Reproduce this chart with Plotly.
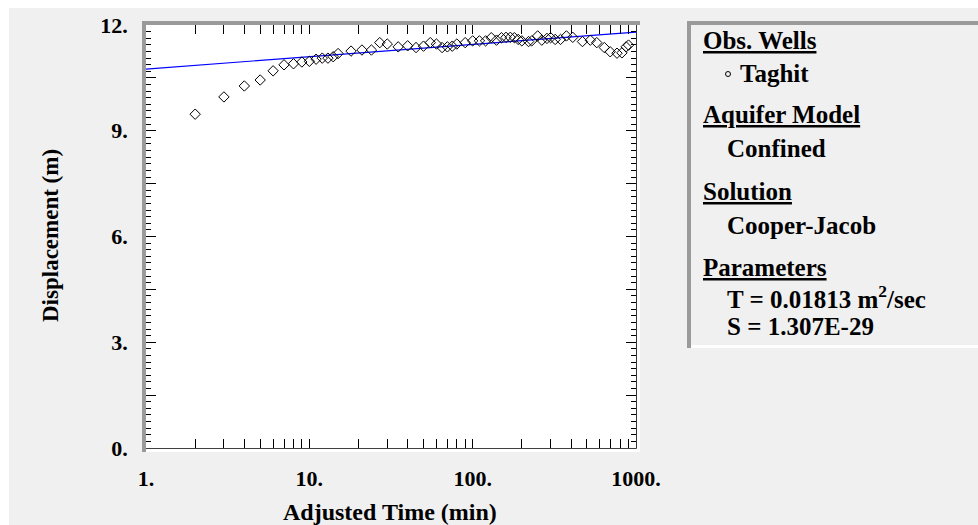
import plotly.graph_objects as go

# ---------------- data ----------------
obs_time = [2, 3, 4, 5, 6, 7, 8, 9, 10, 11, 12, 13, 14, 15, 18, 21, 24, 27, 30,
            35, 40, 45, 50, 55, 60, 65, 70, 75, 80, 90, 100, 110, 120, 130, 140,
            150, 160, 170, 180, 190, 200, 220, 230, 250, 265, 285, 300, 320, 345,
            375, 410, 470, 525, 575, 640, 695, 765, 820, 870, 900]
obs_disp = [9.47, 9.96, 10.27, 10.44, 10.70, 10.87, 10.90, 10.95, 10.97, 11.03,
            11.06, 11.06, 11.10, 11.19, 11.26, 11.29, 11.29, 11.50, 11.46,
            11.38, 11.41, 11.36, 11.40, 11.50, 11.46, 11.36, 11.38, 11.40, 11.46,
            11.50, 11.55, 11.55, 11.55, 11.64, 11.57, 11.64, 11.65, 11.65, 11.64,
            11.59, 11.55, 11.53, 11.55, 11.69, 11.57, 11.62, 11.64, 11.59, 11.59,
            11.69, 11.65, 11.53, 11.57, 11.50, 11.36, 11.24, 11.20, 11.21, 11.38, 11.43]
fit_time = [1, 1000]
fit_disp = [10.75, 11.80]

x_tickvals = [1, 10, 100, 1000]
x_ticktext = ["1.", "10.", "100.", "1000."]
y_tickvals = [0, 3, 6, 9, 12]
y_ticktext = ["0.", "3.", "6.", "9.", "12."]
y_midticks = [1.5, 4.5, 7.5, 10.5]

legend_lines = [
    ("Obs. Wells", "head"),
    ("Taghit", "entry"),
    ("Aquifer Model", "head"),
    ("Confined", "entry"),
    ("Solution", "head"),
    ("Cooper-Jacob", "entry"),
    ("Parameters", "head"),
    ("T = 0.01813 m<sup>2</sup>/sec", "entry"),
    ("S = 1.307E-29", "entry"),
]

# ---------------- layout geometry (pixels) ----------------
W, H = 978, 525
L, R, T, B = 146, 636, 25, 448
FONT = "Liberation Serif"


def fx(px):
    return (px - L) / (R - L)


def fy(py):
    return (B - py) / (B - T)


fig = go.Figure()
fig.add_trace(go.Scatter(x=fit_time, y=fit_disp, mode="lines",
                         line=dict(color="#0000ff", width=1.2),
                         showlegend=False, hoverinfo="skip"))
fig.add_trace(go.Scatter(x=obs_time, y=obs_disp, mode="markers",
                         marker=dict(symbol="diamond-open", size=8, color="black",
                                     line=dict(width=1, color="black")),
                         showlegend=False))
# empty trace that only carries the secondary y axis for the 1.5-step ticks
fig.add_trace(go.Scatter(x=[None], y=[None], yaxis="y2", mode="markers",
                         showlegend=False, hoverinfo="skip"))

minor_x = [m * d for d in (1, 10, 100) for m in range(2, 10)]
tickfont = dict(family=FONT, size=22, color="black", weight="bold")

fig.update_layout(
    xaxis=dict(type="log", range=[0, 3], tickmode="array",
               tickvals=x_tickvals, ticktext=x_ticktext,
               ticks="inside", ticklen=9, tickwidth=1.2, tickcolor="black",
               showline=True, linecolor="black", linewidth=1.5, mirror="allticks",
               showgrid=False, zeroline=False, ticklabelstandoff=10,
               tickfont=tickfont,
               minor=dict(tickmode="array", tickvals=minor_x, ticks="inside",
                          ticklen=4, tickwidth=1.2, tickcolor="black", showgrid=False)),
    yaxis=dict(range=[0, 12], tickmode="array",
               tickvals=y_tickvals, ticktext=y_ticktext,
               ticks="inside", ticklen=10, tickwidth=1.2, tickcolor="black",
               showline=True, linecolor="black", linewidth=1.5, mirror="allticks",
               showgrid=False, zeroline=False, ticklabelstandoff=12,
               tickfont=tickfont,
               minor=dict(dtick=0.1875, ticks="inside", ticklen=5, tickwidth=1.2,
                          tickcolor="black", showgrid=False)),
    yaxis2=dict(overlaying="y", side="left", range=[0, 12], tickmode="array",
                tickvals=y_midticks, showticklabels=False,
                ticks="inside", ticklen=10, tickwidth=1.2, tickcolor="black",
                showline=False, mirror="allticks", showgrid=False, zeroline=False),
)

shapes = []


def rect(x0, y0, x1, y1, color, layer="above"):
    shapes.append(dict(type="rect", xref="paper", yref="paper",
                       x0=fx(x0), x1=fx(x1), y0=fy(y0), y1=fy(y1),
                       fillcolor=color, line=dict(width=0), layer=layer))


# white strips of the window
rect(0, 0, W, 8, "white", "below")
rect(0, 0, 9, H, "white", "below")
# sunken frame around plot
rect(142, 21, 146, 452, "#9a9a9a")
rect(142, 21, 640, 25, "#9a9a9a")
rect(636.8, 25, 640, 452, "white")
rect(146, 448.8, 640, 452, "white")
# legend panel frame
rect(687, 21, 691, 348, "#9a9a9a")
rect(687, 21, W + 5, 25, "#9a9a9a")
rect(691, 345, W + 5, 348, "white")
# small circle symbol for Taghit
shapes.append(dict(type="circle", xref="paper", yref="paper",
                   x0=fx(725.5), x1=fx(730.5), y0=fy(71.5), y1=fy(76.5),
                   line=dict(color="black", width=1), fillcolor="rgba(0,0,0,0)"))

annotations = []
ys = [40, 73, 115, 148, 191, 225, 267, 297, 327]
for (txt, kind), yc in zip(legend_lines, ys):
    x0 = 701 if kind == "head" else (738 if txt == "Taghit" else 725)
    font = dict(family=FONT, size=25, color="black", weight="bold")
    if kind == "head":
        font["lineposition"] = "under"
    annotations.append(dict(text=txt, xref="paper", yref="paper",
                            x=fx(x0), y=fy(yc), xanchor="left", yanchor="middle",
                            showarrow=False, font=font))

# axis titles
annotations.append(dict(text="Adjusted Time (min)", xref="paper", yref="paper",
                        x=fx(390), y=fy(512), xanchor="center", yanchor="middle",
                        showarrow=False,
                        font=dict(family=FONT, size=24, color="black", weight="bold")))
annotations.append(dict(text="Displacement (m)", xref="paper", yref="paper",
                        x=fx(50), y=fy(236), xanchor="center", yanchor="middle",
                        textangle=-90, showarrow=False,
                        font=dict(family=FONT, size=23, color="black", weight="bold")))

fig.update_layout(width=W, height=H, margin=dict(l=L, r=W - R, t=T, b=H - B),
                  paper_bgcolor="#f0f0f0", plot_bgcolor="white",
                  shapes=shapes, annotations=annotations, showlegend=False)

fig.write_html("out.html")
